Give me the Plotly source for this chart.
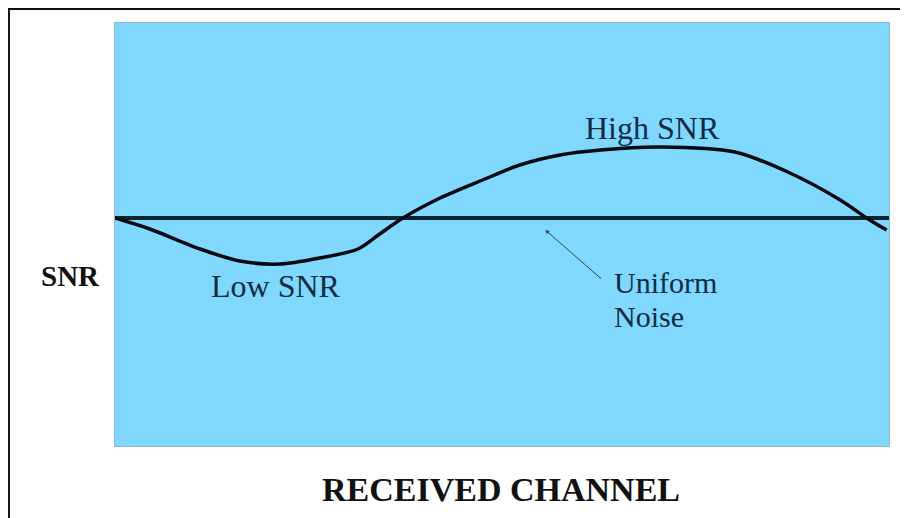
import plotly.graph_objects as go

# Received channel position (0-100) and relative SNR (noise level = 0)
channel = [0, 4.5, 11.0, 16.1, 21.3, 26.4, 31.4, 34.2, 37.2, 42.0, 47.5, 52.3, 57.5, 62.7, 70.4, 80.1, 87.2, 93.7, 97.5, 99.7]
snr = [0, -1.1, -3.1, -4.3, -4.6, -4.0, -3.1, -1.6, 0, 2.0, 3.8, 5.3, 6.3, 6.8, 7.1, 6.6, 4.5, 1.8, -0.2, -1.2]

noise_x = [0, 100]
noise_y = [0, 0]

labels = ["High SNR", "Low SNR", "Uniform", "Noise"]
label_x = [69.5, 20.8, 64.2, 64.2]
label_y = [9.0, -6.8, -6.4, -9.8]

x_title = "RECEIVED CHANNEL"
y_title = "SNR"

SERIF = "Liberation Serif, Times New Roman, serif"
TXT = "#0d2c44"

fig = go.Figure()
fig.add_trace(go.Scatter(x=noise_x, y=noise_y, mode="lines",
                         line=dict(color="#0b2535", width=4), hoverinfo="skip"))
fig.add_trace(go.Scatter(x=channel, y=snr, mode="lines",
                         line=dict(color="#050a10", width=3.5, shape="spline", smoothing=0.8),
                         hoverinfo="skip"))

anchors = ["center", "center", "left", "left"]
sizes = [32, 32, 30, 30]
for t, lx, ly, xa, fs in zip(labels, label_x, label_y, anchors, sizes):
    fig.add_annotation(x=lx, y=ly, text=t, showarrow=False,
                       xanchor=xa, yanchor="middle",
                       font=dict(family=SERIF, size=fs, color=TXT))

# pointer arrow to the noise line
fig.add_annotation(x=55.6, y=-1.2, ax=63.0, ay=-6.2, axref="x", ayref="y",
                   text="", showarrow=True, arrowhead=2, arrowsize=0.8,
                   arrowwidth=1, arrowcolor="#27465c")

fig.add_annotation(xref="paper", yref="paper", x=-0.058, y=0.402, text="<b>" + y_title + "</b>",
                   xanchor="center", yanchor="middle",
                   showarrow=False, font=dict(family=SERIF, size=29, color="#111"))
fig.add_annotation(xref="paper", yref="paper", x=0.499, y=-0.102, text="<b>" + x_title + "</b>",
                   xanchor="center", yanchor="middle",
                   showarrow=False, font=dict(family=SERIF, size=34, color="#111"))

# outer frame
fig.add_shape(type="rect", xref="paper", yref="paper", x0=-0.137, x1=1.06, y0=-0.3, y1=1.0331,
              line=dict(color="#111", width=2), fillcolor="rgba(0,0,0,0)", layer="below")

fig.update_layout(
    width=900, height=510,
    margin=dict(l=107, r=19, t=15, b=72),
    paper_bgcolor="white", plot_bgcolor="#80d8ff",
    showlegend=False,
    xaxis=dict(range=[0, 100], showgrid=False, zeroline=False, showticklabels=False,
               ticks="", showline=True, linecolor="#8cbcd4", linewidth=1, mirror=True, fixedrange=True),
    yaxis=dict(range=[-22.8, 19.5], showgrid=False, zeroline=False, showticklabels=False,
               ticks="", showline=True, linecolor="#8cbcd4", linewidth=1, mirror=True, fixedrange=True),
)

fig.write_html("out.html")
